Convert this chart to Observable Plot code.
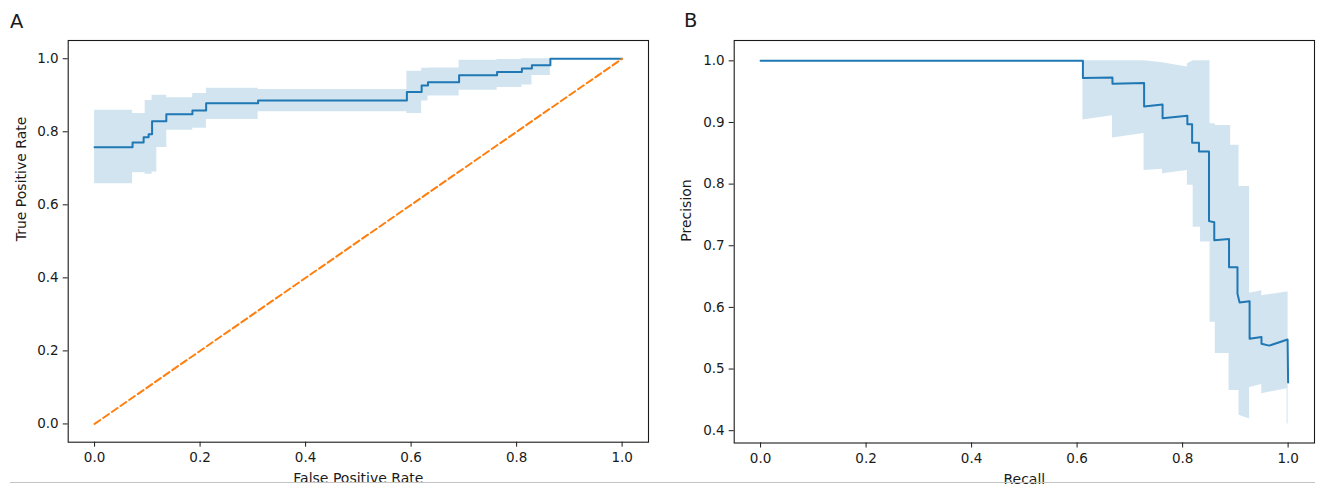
<!DOCTYPE html>
<html>
<head>
<meta charset="utf-8">
<script src="https://cdn.jsdelivr.net/npm/d3@7"></script>
<script src="https://cdn.jsdelivr.net/npm/@observablehq/plot@0.6"></script>
<style>
  html, body { margin: 0; padding: 0; background: #fff; }
  #fig { position: relative; width: 1323px; height: 493px; font-family: "DejaVu Sans", sans-serif; color: #1a1a1a; }
  .panel { position: absolute; top: 0; }
  .tag { position: absolute; font-size: 19.5px; line-height: 1; }
  .rule { position: absolute; left: 10px; width: 1305px; top: 482px; height: 1px; background: #c4c4c4; }
</style>
</head>
<body>
<div id="fig">
  <div class="panel" id="panelA" style="left:0px"></div>
  <div class="panel" id="panelB" style="left:662px"></div>
  <div class="tag" style="left:10px; top:12px">A</div>
  <div class="tag" style="left:684px; top:11px">B</div>
  <div class="rule"></div>
</div>
<script>
// ROC curve: mean true positive rate per false positive rate (step curve)
const fpr = [0, 0.072, 0.093, 0.1025, 0.109, 0.136, 0.1855, 0.2115, 0.31, 0.592, 0.620, 0.632, 0.691, 0.763, 0.810, 0.829, 0.864, 1.0];
const tpr = [0.758, 0.771, 0.785, 0.793, 0.829, 0.848, 0.858, 0.878, 0.886, 0.909, 0.927, 0.936, 0.955, 0.964, 0.973, 0.982, 1.0, 1.0];

// ROC variability band (step curve)
const rocBandFpr   = [0, 0.072, 0.096, 0.109, 0.118, 0.137, 0.186, 0.212, 0.310, 0.592, 0.620, 0.632, 0.691, 0.763, 0.810, 0.829, 0.864, 1.0];
const rocBandUpper = [0.859, 0.850, 0.886, 0.900, 0.900, 0.893, 0.905, 0.919, 0.916, 0.966, 0.974, 0.975, 0.996, 0.998, 1.0, 1.0, 1.0, 1.0];
const rocBandLower = [0.658, 0.688, 0.684, 0.690, 0.757, 0.804, 0.810, 0.834, 0.855, 0.850, 0.884, 0.898, 0.914, 0.921, 0.928, 0.954, 1.0, 1.0];

// Chance diagonal
const chanceX = [0, 1];
const chanceY = [0, 1];

// Precision-recall curve (vertices; repeated recall values give vertical drops)
const recall = [0, 0.611, 0.611, 0.667, 0.667, 0.727, 0.727, 0.762, 0.762, 0.809, 0.809, 0.818, 0.818, 0.831, 0.831, 0.850, 0.850, 0.860, 0.860, 0.888, 0.888, 0.904, 0.904, 0.908, 0.927, 0.927, 0.9495, 0.9495, 0.964, 0.999, 1.0];
const precision = [1.0, 1.0, 0.972, 0.973, 0.963, 0.964, 0.926, 0.929, 0.907, 0.911, 0.897, 0.897, 0.867, 0.867, 0.853, 0.853, 0.740, 0.738, 0.709, 0.711, 0.665, 0.665, 0.622, 0.608, 0.610, 0.549, 0.552, 0.541, 0.538, 0.548, 0.478];

// Precision variability band
const prBandRecall = [0, 0.611, 0.611, 0.667, 0.667, 0.727, 0.727, 0.762, 0.762, 0.809, 0.809, 0.820, 0.820, 0.834, 0.834, 0.852, 0.852, 0.862, 0.862, 0.888, 0.888, 0.891, 0.891, 0.907, 0.907, 0.927, 0.927, 0.950, 0.950, 0.998, 0.998, 1.0];
const prBandUpper  = [1.0, 1.0, 1.0, 1.0, 1.0, 1.0, 1.0, 0.997, 0.997, 0.990, 0.995, 1.0, 1.0, 1.0, 1.0, 1.0, 0.898, 0.898, 0.895, 0.895, 0.895, 0.895, 0.863, 0.863, 0.796, 0.796, 0.623, 0.627, 0.619, 0.625, 0.625, 0.625];
const prBandLower  = [1.0, 1.0, 0.904, 0.911, 0.875, 0.882, 0.822, 0.824, 0.817, 0.822, 0.798, 0.798, 0.730, 0.730, 0.706, 0.706, 0.576, 0.576, 0.525, 0.525, 0.465, 0.465, 0.465, 0.465, 0.425, 0.419, 0.470, 0.475, 0.460, 0.468, 0.411, 0.411];

// Tick values
const unitTicks = [0, 0.2, 0.4, 0.6, 0.8, 1.0];
const precisionTicks = [0.4, 0.5, 0.6, 0.7, 0.8, 0.9, 1.0];

const blue = "#1f77b4";
const orange = "#ff7f0e";
const ink = "#1a1a1a";
const font = '"DejaVu Sans", sans-serif';

const rocLine = fpr.map((x, i) => ({x, y: tpr[i]}));
const rocBand = rocBandFpr.map((x, i) => ({x, lo: rocBandLower[i], hi: rocBandUpper[i]}));
const chance = chanceX.map((x, i) => ({x, y: chanceY[i]}));
const prLine = recall.map((x, i) => ({x, y: precision[i]}));
const prBand = prBandRecall.map((x, i) => ({x, lo: prBandLower[i], hi: prBandUpper[i]}));

function axisMarks(yTicks, xLabel, yLabel, yLabelDx) {
  return [
    Plot.axisX({ticks: unitTicks, tickFormat: ".1f", tickSize: 5, tickPadding: 5, label: null, fontSize: 13.5}),
    Plot.axisY({ticks: yTicks, tickFormat: ".1f", tickSize: 5, tickPadding: 4.5, label: null, fontSize: 13.5}),
    Plot.frame({stroke: ink, strokeWidth: 1.1}),
    Plot.text([xLabel], {text: d => d, frameAnchor: "bottom", dy: 36.5, lineAnchor: "middle", fontSize: 14, fill: ink}),
    Plot.text([yLabel], {text: d => d, frameAnchor: "left", dx: yLabelDx, rotate: -90, lineAnchor: "middle", fontSize: 14, fill: ink})
  ];
}

const rocPlot = Plot.plot({
  width: 662, height: 493,
  marginLeft: 67.7, marginRight: 14, marginTop: 40, marginBottom: 51.3,
  style: {fontFamily: font, color: ink, background: "transparent", overflow: "visible"},
  x: {domain: [-0.05, 1.05]},
  y: {domain: [-0.05, 1.05]},
  marks: [
    Plot.areaY(rocBand, {x: "x", y1: "lo", y2: "hi", curve: "step-after", fill: blue, fillOpacity: 0.2}),
    Plot.line(rocLine, {x: "x", y: "y", curve: "step-after", stroke: blue, strokeWidth: 2}),
    Plot.line(chance, {x: "x", y: "y", stroke: orange, strokeWidth: 2, strokeDasharray: "7,3.5"}),
    ...axisMarks(unitTicks, "False Positive Rate", "True Positive Rate", -46.7)
  ]
});

const prPlot = Plot.plot({
  width: 661, height: 493,
  marginLeft: 71.7, marginRight: 9, marginTop: 40, marginBottom: 50.5,
  style: {fontFamily: font, color: ink, background: "transparent", overflow: "visible"},
  x: {domain: [-0.05, 1.05]},
  y: {domain: [0.380, 1.033]},
  marks: [
    Plot.areaY(prBand, {x: "x", y1: "lo", y2: "hi", curve: "linear", fill: blue, fillOpacity: 0.2}),
    Plot.line(prLine, {x: "x", y: "y", curve: "linear", stroke: blue, strokeWidth: 2}),
    ...axisMarks(precisionTicks, "Recall", "Precision", -47.7)
  ]
});

document.getElementById("panelA").appendChild(rocPlot);
document.getElementById("panelB").appendChild(prPlot);
</script>
</body>
</html>
